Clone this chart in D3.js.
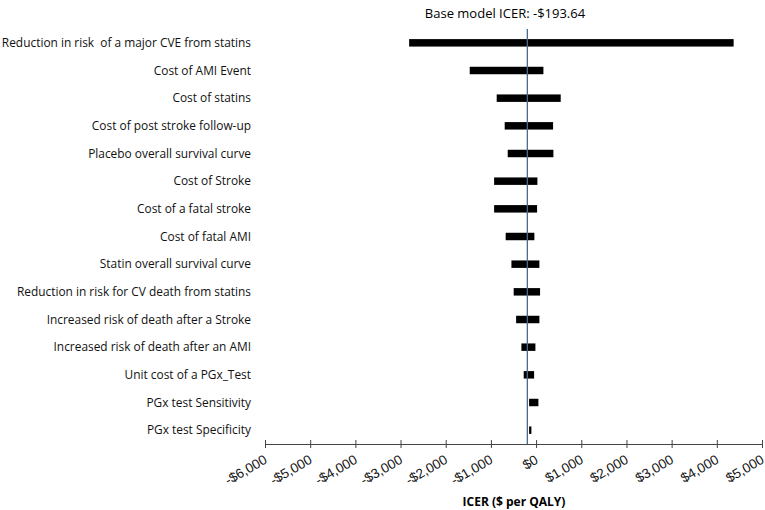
<!DOCTYPE html>
<html>
<head>
<meta charset="utf-8">
<script src="https://cdn.jsdelivr.net/npm/d3@7"></script>
<style>
	body { margin: 0; background: #fff; }
	svg { font-family: "Open Sans", sans-serif; }
	.label { font-size: 11.9px; fill: #111; }
	.tick text { font-size: 13.5px; fill: #111; }
</style>
</head>
<body>
<svg></svg>
<script>
// tornado chart data
const params = [
	"Reduction in risk  of a major CVE from statins",
	"Cost of AMI Event",
	"Cost of statins",
	"Cost of post stroke follow-up",
	"Placebo overall survival curve",
	"Cost of Stroke",
	"Cost of a fatal stroke",
	"Cost of fatal AMI",
	"Statin overall survival curve",
	"Reduction in risk for CV death from statins",
	"Increased risk of death after a Stroke",
	"Increased risk of death after an AMI",
	"Unit cost of a PGx_Test",
	"PGx test Sensitivity",
	"PGx test Specificity"
]
const lowValues = [-2810, -1469, -872, -695, -628, -929, -929, -673, -546, -496, -442, -325, -274, -155, -155]
const highValues = [4372, 162, 545, 376, 383, 29, 22, -38, 73, 88, 73, -15, -44, 51, -104]
const baseIcer = -193.64
const tickValues = [-6000, -5000, -4000, -3000, -2000, -1000, 0, 1000, 2000, 3000, 4000, 5000]

const svg = d3.select("svg").attr("width", 765).attr("height", 510)

const x = d3.scaleLinear().domain([-6000, 5000]).range([265, 762])
const y = d3.scaleBand().domain(params).range([29, 444]).paddingInner(0.73).paddingOuter(0.365)

const fmt = (d) => (d < 0 ? "-$" : "$") + d3.format(",")(Math.abs(d))

// bars
svg.selectAll("rect.bar")
	.data(params)
	.enter()
	.append("rect")
	.attr("class", "bar")
	.attr("x", (d, i) => x(lowValues[i]))
	.attr("width", (d, i) => x(highValues[i]) - x(lowValues[i]))
	.attr("y", (d) => y(d))
	.attr("height", y.bandwidth())
	.style("fill", "#000")

// category labels
svg.selectAll("text.label")
	.data(params)
	.enter()
	.append("text")
	.attr("class", "label")
	.attr("x", 251)
	.attr("y", (d) => y(d) + y.bandwidth() / 2)
	.attr("dy", "0.35em")
	.attr("text-anchor", "end")
	.style("white-space", "pre")
	.text((d) => d)

// x axis
const axis = svg.append("g")
	.attr("transform", "translate(0, 444)")
	.call(d3.axisBottom(x).tickValues(tickValues).tickFormat(fmt).tickSizeInner(4).tickSizeOuter(0))

axis.select(".domain").attr("stroke", "#444")
axis.selectAll(".tick line").attr("stroke", "#444").attr("y1", -4).attr("y2", 4)
axis.selectAll(".tick text")
	.attr("text-anchor", "end")
	.attr("transform", "translate(-3, 9) rotate(-30)")
	.attr("dy", "0.8em")
	.attr("y", 0)

// base case line
svg.append("line")
	.attr("x1", x(baseIcer))
	.attr("x2", x(baseIcer))
	.attr("y1", 29)
	.attr("y2", 444)
	.attr("stroke", "#4a6b8a")
	.attr("stroke-width", 1.3)

// titles
svg.append("text")
	.attr("x", 505)
	.attr("y", 18)
	.attr("text-anchor", "middle")
	.style("font-size", "13px")
	.text("Base model ICER: -$" + Math.abs(baseIcer).toFixed(2))

svg.append("text")
	.attr("x", 514)
	.attr("y", 506)
	.attr("text-anchor", "middle")
	.style("font-size", "12px")
	.style("font-weight", "bold")
	.text("ICER ($ per QALY)")
</script>
</body>
</html>
